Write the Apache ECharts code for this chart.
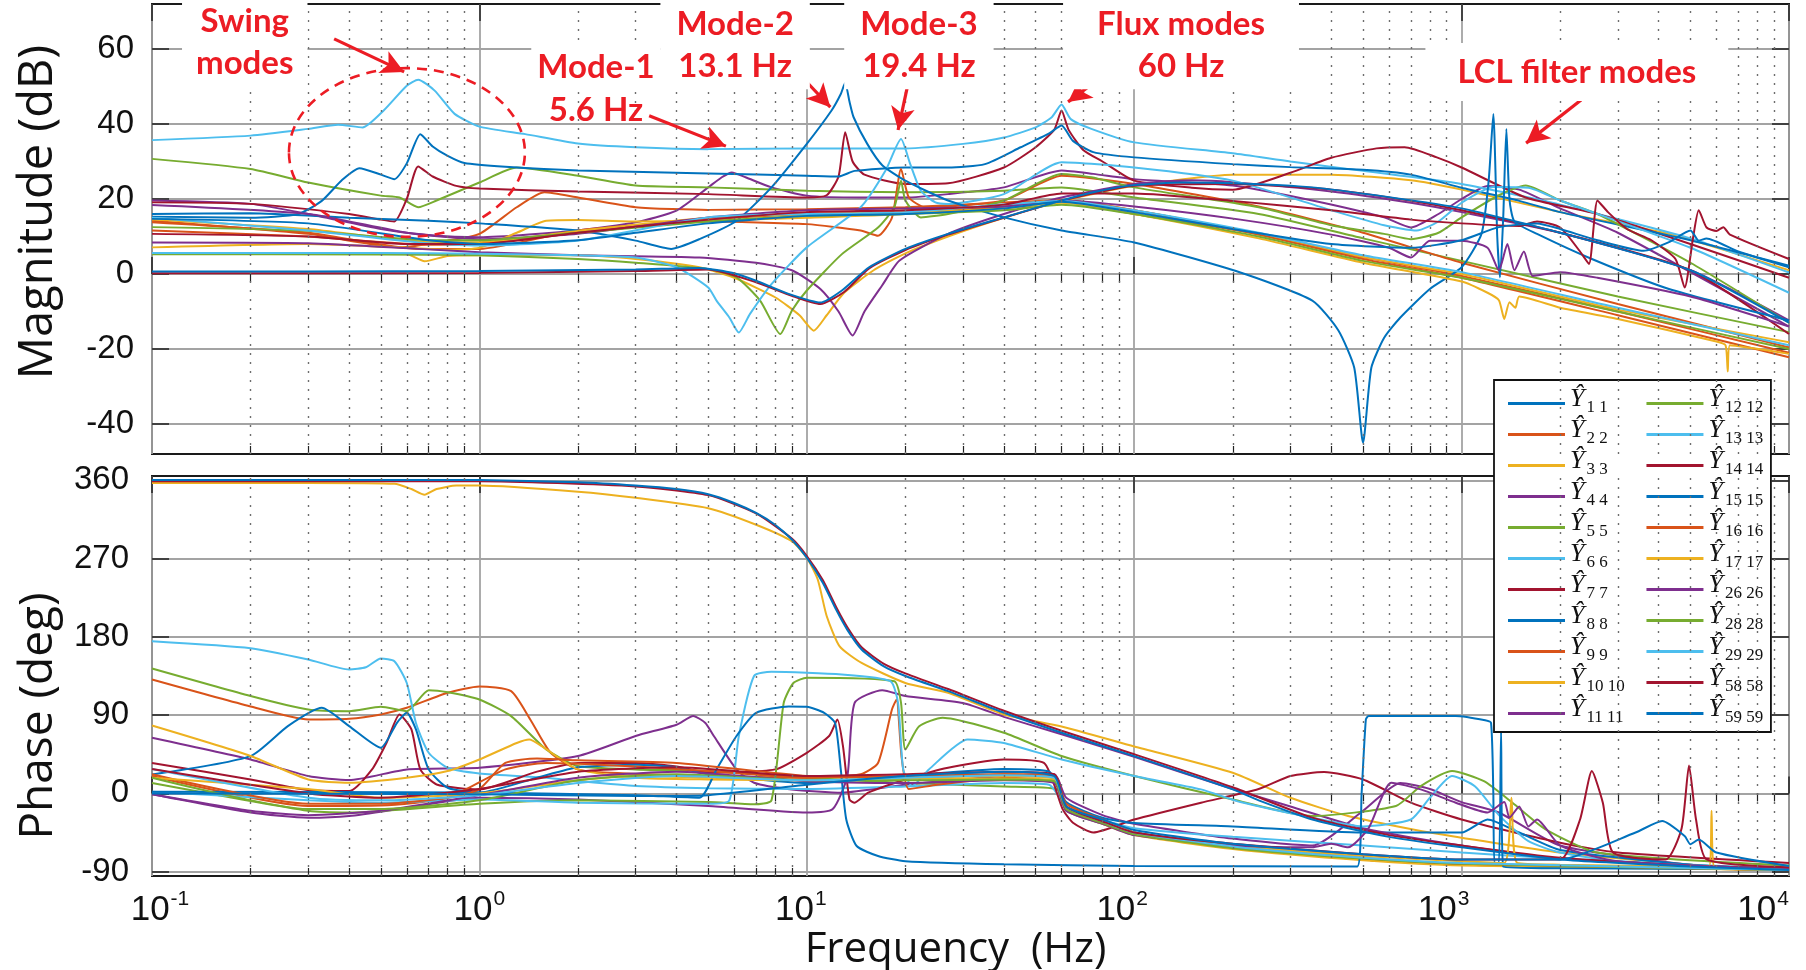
<!DOCTYPE html>
<html>
<head>
<meta charset="utf-8">
<script src="https://cdn.jsdelivr.net/npm/echarts@6/dist/echarts.min.js"></script>
<style>
html,body{margin:0;padding:0;background:#fff;}
#chart{width:1806px;height:970px;}
</style>
</head>
<body>
<div id="chart"></div>
<script>
// ---------------- data ----------------
const subLabels = ['1 1','2 2','3 3','4 4','5 5','6 6','7 7','8 8','9 9','10 10','11 11','12 12','13 13','14 14','15 15','16 16','17 17','26 26','28 28','29 29','58 58','59 59'];
const magTicks = [-40, -20, 0, 20, 40, 60];
const phaseTicks = [-90, 0, 90, 180, 270, 360];

// magnitude (dB) vs frequency (Hz)
const magY11 = [[0.1,0.7],[0.3,0.7],[1,0.8],[3,1.2],[4.7,1.6],[6,0.2],[7,-1.8],[8.8,-5.3],[11,-7.6],[12.8,-4.4],[15.5,1.8],[20,6.7],[27,10.7],[40,15.1],[60,19.6],[75,21.8],[100,23.7],[140,24.4],[200,24.2],[350,23.1],[600,20.5],[1000,17.5],[2000,11],[5000,1],[10000,-13]];
const magY22 = [[0.1,14.2],[0.3,10.7],[0.57,7.1],[0.8,8.9],[1,10.7],[1.3,17.8],[1.58,21.8],[2,20.4],[3,17.8],[5,17.1],[10,17.3],[20,17.8],[40,19.1],[60,19.6],[100,16],[240,10.7],[500,4.5],[1000,-0.5],[3000,-10],[10000,-21]];
const magY33 = [[0.1,5.6],[0.3,5.6],[0.6,5.3],[0.68,3.4],[0.8,4.8],[1,5],[2,5],[3,4],[4.7,1.8],[6,-1],[8,-6.2],[9.5,-11],[10.5,-15.1],[11.5,-11],[13,-5],[16,1],[20,5.5],[27,10],[40,15],[60,19.5],[100,23.5],[200,26.5],[400,26.5],[700,25],[1000,22.5],[2000,16.5],[4300,10.7],[10000,1]];
const magY44 = [[0.1,19.6],[0.2,18.7],[0.3,16],[0.5,12],[0.7,10.4],[1,9.8],[2,11.6],[3,13.8],[4,16.9],[5,23.1],[5.5,25.8],[5.9,27.1],[6.5,25.8],[7.8,23.1],[10,20.9],[14.6,20.4],[20,20.4],[27,21.3],[40,23.1],[60,27.6],[75,26.7],[100,25.3],[200,23.6],[350,19.6],[580,15.1],[700,12.4],[850,16],[1000,20],[1200,23.5],[1500,22.5],[2000,17.5],[3000,11],[10000,-14]];
const magY55 = [[0.1,30.7],[0.2,28],[0.3,24.4],[0.5,20.9],[0.57,20.4],[0.65,17.8],[0.74,19.6],[1,24.4],[1.3,28.4],[2,26.2],[3,23.6],[5,23.1],[10,22.2],[20,21.8],[40,22.2],[60,23.1],[100,20.4],[240,16],[500,9.5],[1000,3.5],[3000,-6],[10000,-15.5]];
const magY66 = [[0.1,35.7],[0.2,36.9],[0.3,38.7],[0.37,39.8],[0.44,39.1],[0.51,43.6],[0.6,50.2],[0.65,51.8],[0.73,48.9],[0.84,42.7],[1,39.3],[1.38,37.3],[2,34.8],[3,33.8],[5,33.3],[10,33.5],[20,33.5],[30,34.7],[40,36.4],[50,39.1],[56,41.8],[60,45.2],[64,41.3],[74,38.7],[100,35.1],[200,32.2],[300,30],[500,27.5],[1000,24],[2000,18.5],[5000,9.5],[10000,0.4]];
const magY77 = [[0.1,19.1],[0.2,18.7],[0.4,16],[0.5,14.5],[0.55,14],[0.6,20],[0.65,28.7],[0.72,26],[0.85,23.5],[1,22.8],[2,22],[5,21.3],[10,20.4],[11.5,21],[12.5,26],[13.1,37.8],[13.8,30],[15,26.5],[20,24],[27,24.2],[40,28.4],[50,33.8],[57,38.5],[60,43.6],[63,38.5],[70,33],[80,30],[100,24.9],[150,23],[200,22.5],[300,27],[400,31],[550,33.5],[670,33.8],[840,31.1],[1000,28.4],[1570,20.4],[2600,16],[5000,8],[10000,-1]];
const magY88 = [[0.1,15.3],[0.2,15],[0.28,16],[0.33,19.5],[0.38,25],[0.43,28.2],[0.5,26.5],[0.55,25.3],[0.6,29.5],[0.66,37.3],[0.72,34],[0.8,31.5],[0.9,29.6],[1.2,28.6],[2,27.6],[5,26.8],[10,26.2],[12.5,26],[14,27.5],[20,28.4],[27,28.4],[35,29.3],[45,33.8],[55,37.5],[60,39.6],[65,35.5],[75,32.5],[100,31.1],[200,29.3],[300,28.5],[500,27.8],[700,26.5],[1000,23],[1500,19.5],[2000,16.5],[5000,9],[10000,2.2]];
const magY99 = [[0.1,13.8],[0.3,11],[0.65,6.7],[1,6.7],[2,11.6],[5,14],[10,13.3],[14.6,11.6],[16.5,10.2],[18.2,15],[19.4,28],[20.5,20.4],[23,17.8],[40,19.6],[60,26.2],[100,24],[240,18],[500,11],[1000,3],[3000,-8],[10000,-19.6]];
const magY1010 = [[0.1,7.1],[0.3,8],[0.6,7],[0.8,6.5],[1,7],[1.3,11],[1.6,14.2],[2,14.4],[3,14],[5,14.2],[10,15],[20,16],[40,18],[60,19.8],[100,17],[200,12],[500,4.5],[1000,0],[3000,-9.5],[10000,-18.2]];
const magY1111 = [[0.1,8.4],[0.3,8.2],[0.65,6.7],[1,5.8],[2,5],[4.7,4.4],[7,3],[9,1],[11,-4],[12.5,-10],[13.8,-16.4],[15,-10],[17,-3],[19.2,3.6],[27,10.7],[40,16],[60,20.4],[100,24],[150,25],[200,24.5],[400,22],[700,19],[1000,16.5],[2000,11],[5000,1],[10000,-12.4]];
const magY1212 = [[0.1,5.3],[0.5,5.2],[1,5],[2,4],[3,3],[5,1.3],[6.1,-0.9],[7.2,-7.1],[8.3,-16],[9,-9.8],[10,-4.4],[12.8,5.3],[16.5,12.4],[18.5,17.8],[19.4,24.9],[20,19.6],[22.3,15.1],[27,16],[40,19.6],[60,26.7],[74,25.8],[100,23.1],[240,17.8],[400,13],[580,10.7],[700,9.3],[850,11],[1000,15.1],[1300,21],[1570,23.6],[2000,19.6],[2600,16],[5000,3],[10000,-13]];
const magY1313 = [[0.1,5.6],[0.5,5.6],[1,5.4],[2,5],[3,4.4],[4,1.8],[5,-3.6],[5.3,-7.1],[5.8,-11.6],[6.2,-15.6],[6.7,-10.7],[7.8,-2.7],[10,7.1],[14.6,17.8],[17.4,27.6],[19.4,36],[20.7,29.3],[22.3,22.2],[24.7,19.1],[27,18.7],[40,21.3],[60,29.8],[100,28.4],[200,24.9],[400,17],[580,13],[730,11.6],[850,14],[1000,19],[1250,23.2],[1600,23],[2000,19.6],[5000,7],[10000,-5]];
const magY1414 = [[0.1,0.2],[1,0.3],[3,0.8],[5,1.2],[7,-2.2],[9,-5.8],[11,-8],[13,-4.8],[15.5,1.5],[20,6.4],[27,10.5],[40,15],[60,19.5],[100,23.5],[200,24],[400,22.5],[700,19.5],[1000,17],[2000,11],[5000,1],[10000,-16]];
const magY1515 = [[0.1,16],[0.2,16.2],[0.4,15],[0.7,14.2],[1,13.5],[2,11.6],[3,8.9],[3.85,6.7],[4.7,9.3],[6.1,14.2],[7.8,23.1],[10,34.7],[11.9,43.6],[12.7,48],[13.1,51],[13.5,46],[13.9,41.8],[15.3,34.7],[17,29],[20,24.9],[27,19.6],[40,15.1],[60,11.6],[100,8.4],[211,0.4],[350,-7.1],[420,-15],[470,-25],[500,-45],[530,-25],[580,-17],[650,-11.6],[800,-4],[1000,1.8],[1150,10.7],[1210,25],[1250,42.7],[1285,10],[1310,-0.9],[1340,15],[1370,38.7],[1400,20],[1450,14],[1700,10.7],[2500,4],[4300,-4],[10000,-12.4]];
const magY1616 = [[0.1,11.6],[0.3,10],[0.7,7.8],[1,8],[2,11],[5,14.5],[10,16],[20,16.5],[40,18],[60,19.6],[100,17],[240,10.5],[500,4],[1000,-1],[3000,-11],[10000,-22.2]];
const magY1717 = [[0.1,14.5],[0.3,12],[0.7,8.5],[1,8.5],[2,11.5],[5,15],[10,16],[20,16.5],[40,17.5],[60,19],[100,16],[240,9.5],[500,3],[1000,-2],[1200,-5],[1300,-7],[1350,-12],[1400,-7.5],[1460,-9],[1500,-6],[2000,-9],[3000,-12],[6000,-18],[6400,-19],[6500,-26],[6600,-19],[10000,-21.3]];
const magY2626 = [[0.1,18.4],[0.3,16],[0.6,11],[1,9.3],[2,10.7],[5,15.1],[10,17],[20,17.5],[40,18],[60,19.6],[100,18],[211,14.5],[400,10.5],[600,7],[700,4.4],[800,8.9],[1000,8.9],[1200,7],[1300,1],[1380,8],[1450,1],[1550,6],[1650,-0.5],[2000,0.5],[2600,-1],[5000,-6],[10000,-14]];
const magY2828 = [[0.1,12.5],[0.3,11.5],[0.7,9],[1,9],[2,11],[5,14],[10,15.5],[20,16],[40,17],[60,18.5],[100,16],[240,10],[500,3.5],[1000,-1],[3000,-10],[10000,-20]];
const magY2929 = [[0.1,15],[0.3,11.6],[0.65,8.4],[1,7.6],[2,8.9],[5,15.1],[10,16],[20,16.5],[60,19.5],[100,17],[240,11],[500,5],[1000,0.5],[3000,-9],[10000,-19]];
const magY5858 = [[0.1,10.7],[0.3,10],[0.6,8],[1,8],[2,11],[5,14.5],[10,16.5],[20,17],[40,18.5],[60,21.5],[100,21.5],[200,19.5],[400,17],[700,14.5],[1000,13.5],[1500,12.8],[1700,14],[2000,12.4],[2300,6],[2450,2.7],[2600,19.6],[2800,16.5],[3200,12],[3800,9],[4500,4],[4800,-3.6],[5100,10],[5300,17],[5600,12.4],[6000,11.5],[6300,12.5],[6600,10.5],[10000,4]];
const magY5959 = [[0.1,14.7],[0.3,13.5],[0.7,9],[1,8],[2,9],[3,11],[5,13.5],[10,15.5],[20,16],[40,17.5],[60,19.3],[100,16.5],[200,12],[400,8],[700,7],[1000,9],[1300,12.5],[1700,13.5],[2000,12],[2600,9],[3600,6.2],[4300,8.5],[5000,11.6],[5300,8.9],[5600,9.5],[7000,6],[10000,1.8]];

// phase (deg) vs frequency (Hz)
const phY11 = [[0.1,360.5],[0.5,360.5],[1,360.3],[2,357.7],[3,354],[4,350],[5,344],[6,334],[7,322.5],[8,309],[9,292],[10,271],[11.2,242],[12.3,211],[13.3,188],[14.7,165.5],[17.2,146],[20,135],[27,117.6],[40,92.7],[60,69.7],[100,42.9],[200,4.6],[240,-8],[350,-30],[600,-50],[1000,-62],[2000,-76],[5000,-84],[10000,-88]];
const phY22 = [[0.1,131],[0.2,100],[0.3,85],[0.4,85.8],[0.5,90.8],[0.6,98.4],[0.8,115.7],[1,123],[1.25,117.6],[1.43,85],[1.65,46.7],[2,27.6],[2.5,23.7],[5,20],[10,18],[20,20],[40,22],[58,18],[62,-15],[80,-30],[100,-45],[200,-62],[500,-76],[1000,-82],[10000,-88]];
const phY33 = [[0.1,357],[0.3,357],[0.55,356],[0.62,350],[0.68,343.5],[0.74,350],[0.85,354],[1,354],[2,347],[3,340],[5,328],[7,309],[9,290],[10,271],[10.8,246],[11.5,204],[12.6,169],[14.7,150],[20,127],[27,115.7],[40,90.8],[60,77],[100,54],[200,23.7],[300,-5],[450,-26],[800,-45],[2000,-68],[5000,-82],[10000,-87]];
const phY44 = [[0.1,64],[0.2,39],[0.3,20],[0.4,15.3],[0.6,27.6],[1,29.5],[2,43],[3,66],[4,79],[4.5,89],[4.9,81],[5.2,66],[6.1,27.6],[6.9,12.3],[9,4.6],[12.8,0.8],[20,10],[40,20],[57,22],[62,-5],[80,-25],[100,-35],[200,-52],[350,-60],[500,-20],[650,12],[800,5],[1000,-10],[1300,-22],[2000,-60],[5000,-82],[10000,-87]];
const phY55 = [[0.1,143.6],[0.2,112],[0.3,96.5],[0.4,94.6],[0.5,99.6],[0.6,94.6],[0.7,118.7],[0.8,116.4],[1,108],[1.25,88.9],[1.6,50.6],[2,31.4],[3,27.6],[5,25.7],[10,18],[20,12],[40,8],[58,5],[62,-20],[80,-35],[100,-45],[200,-62],[500,-76],[1000,-82],[10000,-88]];
const phY66 = [[0.1,175],[0.2,167],[0.3,154],[0.4,142.5],[0.45,145],[0.5,155],[0.55,152],[0.6,127],[0.64,81],[0.7,46.7],[0.8,29.5],[1,23],[1.6,18],[2,14.2],[3,8.4],[5,6],[10,5],[20,8],[40,12],[55,10],[62,-15],[80,-30],[100,-40],[200,-50],[500,-60],[1000,-68],[2000,-75],[10000,-87]];
const phY77 = [[0.1,35],[0.2,16],[0.3,3.8],[0.4,2.7],[0.47,27.6],[0.52,58],[0.57,90.8],[0.62,73.5],[0.66,27.6],[0.74,10.3],[1,4.6],[1.5,25],[2,35],[3,35],[4,31],[5,23.7],[8,27.6],[10,46.7],[11.7,66],[12.4,85],[12.9,54],[13.5,-7],[14,-10.7],[15.4,0.8],[20,16],[27,29.5],[40,39],[53,35],[60.5,-18.4],[65,-33.7],[75,-45],[100,-30],[160,-10.7],[240,5],[300,20],[380,24.5],[500,16],[700,-10.7],[1000,-30],[2000,-56.7],[3000,-68],[10000,-80]];
const phY88 = [[0.1,21.8],[0.2,42.9],[0.26,77.4],[0.33,98.4],[0.4,77.4],[0.5,52.5],[0.56,81.2],[0.6,92.7],[0.64,73.5],[0.7,27.6],[0.8,6.5],[1,1],[1.5,18],[2,30],[3,33],[4,30],[5,22],[10,12],[20,20],[40,28],[55,25],[62,-10],[80,-28],[100,-34],[200,-38],[500,-45],[1000,-45],[1200,-30],[1500,-45],[2000,-65],[5000,-82],[10000,-87]];
const phY99 = [[0.1,20],[0.3,-14.5],[0.5,-14],[0.8,-5],[1.2,27.6],[1.6,35],[3,31],[5,25.7],[10,18],[14.6,22],[16.5,35],[18.2,96.5],[18.8,108],[19.5,40],[20.5,5],[25,10],[40,18],[57,20],[62,-15],[80,-30],[100,-45],[200,-62],[500,-76],[1000,-82],[10000,-88]];
const phY1010 = [[0.1,78],[0.2,43],[0.3,16],[0.4,12.3],[0.6,18],[0.8,25.7],[1,39],[1.3,58],[1.42,62],[1.55,54.4],[2,27.6],[3,18],[5,16],[10,15],[20,18],[40,20],[57,17],[62,-18],[80,-35],[100,-48],[200,-64],[500,-77],[1000,-83],[10000,-88]];
const phY1111 = [[0.1,-1],[0.2,-22],[0.3,-28],[0.4,-26],[0.6,-16.5],[1,-5],[2,-7],[5,-14.5],[10,-22],[12,-18],[13.3,20],[14,104],[17,118.7],[20,112],[30,104],[40,88],[60,68],[100,42],[200,5],[300,-15],[500,-40],[1000,-60],[2000,-75],[10000,-88]];
const phY1212 = [[0.1,12],[0.3,-20],[0.4,-22],[1,-12],[2,-8],[5,-10],[6.9,-12.6],[7.8,-8],[8.5,104],[9.1,127],[10,133],[18.5,129],[19.4,104],[20,50.5],[22,77],[26,87],[40,69.7],[60,43],[100,20],[200,-7],[350,-26],[630,-14.5],[750,8.4],[935,25.7],[1170,14],[1430,-10.7],[1800,-41],[2600,-68],[10000,-83]];
const phY1313 = [[0.1,2],[0.3,-8],[0.5,-10.7],[1,-7],[2,-10.7],[5,-12],[5.8,-8],[6.2,66],[6.9,135],[7.8,139.8],[12.8,136.7],[18,129],[19,104],[19.7,27.6],[21,8.4],[23.6,27.6],[31,62],[40,58],[60,39],[100,20],[160,4.6],[211,-10],[350,-28],[500,-38],[700,-30],[800,-5],[935,20],[1100,8],[1300,-25],[1600,-55],[2000,-68],[3000,-78],[10000,-88]];
const phY1414 = [[0.1,359],[1,359],[3,353],[5,343],[7,322],[9,293],[10,273],[11.2,245],[12.3,214],[13.3,191],[14.7,168],[17.2,149],[20,138],[27,120],[40,95],[60,72],[100,45],[200,7],[350,-28],[600,-48],[1000,-60],[2000,-74],[5000,-83],[10000,-87]];
const phY1515 = [[0.1,2],[1,1],[3,-2],[4.7,-5],[5.3,27.6],[6.1,66],[7,92.7],[8.8,100],[10,99.6],[11.3,92.7],[12.2,81],[12.7,27.6],[13.2,-30],[14.2,-60.5],[16.5,-72],[20,-78],[40,-81.6],[100,-83.5],[480,-84],[495,0],[510,85],[520,89],[960,89],[1180,84],[1230,81],[1250,0],[1260,-80],[1300,-80],[1320,73.5],[1340,-84],[2000,-86],[10000,-87]];
const phY1616 = [[0.1,22],[0.3,-12],[0.5,-12],[0.8,-5],[1,5],[1.2,35],[1.5,40],[2,38],[4,35],[10,20],[20,18],[40,22],[57,20],[62,-12],[80,-30],[100,-45],[200,-60],[500,-74],[1000,-81],[10000,-88]];
const phY1717 = [[0.1,18],[0.3,5],[0.5,-5],[1,0],[2,15],[3,20],[5,18],[10,15],[20,17],[40,17],[57,15],[62,-18],[80,-32],[100,-45],[200,-60],[500,-72],[1000,-78],[1350,-80],[1420,-5],[1480,-80],[2000,-82],[5000,-84],[5700,-84],[5800,-20],[5900,-84],[10000,-87]];
const phY2626 = [[0.1,-1],[0.2,-20],[0.3,-25],[0.5,-20],[1,-2],[2,18],[4,25],[10,14],[20,12],[40,15],[57,12],[62,-20],[80,-35],[100,-48],[200,-60],[350,-62],[400,-58],[450,-62],[520,-40],[610,12.3],[750,4.6],[960,-10.7],[1200,-22],[1350,-10],[1400,-28],[1500,-15],[1600,-38],[1700,-30],[2000,-60],[3000,-78],[10000,-87]];
const phY2828 = [[0.1,18],[0.3,-18],[0.5,-18],[1,-8],[2,15],[4,22],[10,15],[20,15],[40,16],[57,14],[62,-18],[80,-34],[100,-47],[200,-63],[500,-75],[1000,-81],[10000,-88]];
const phY2929 = [[0.1,28],[0.3,-5],[0.5,-8],[1,-2],[2,12],[4,20],[10,15],[20,18],[40,21],[57,18],[62,-15],[80,-32],[100,-45],[200,-61],[500,-74],[1000,-80],[10000,-88]];
const phY5858 = [[0.1,28],[0.3,0],[0.5,-5],[1,5],[2,25],[4,30],[10,20],[20,22],[40,25],[57,22],[62,-15],[80,-32],[100,-45],[200,-58],[500,-70],[1000,-76],[2000,-76],[2300,-30],[2500,25.7],[2700,-10.7],[2900,-68],[4200,-76],[4700,-40],[4950,32],[5200,-30],[5600,-76],[10000,-85]];
const phY5959 = [[0.1,0],[1,-1],[3,-3],[5,-2],[10,10],[20,20],[40,25],[57,20],[62,-15],[80,-30],[100,-42],[200,-58],[500,-70],[1000,-76],[2000,-76],[3400,-45],[4100,-31.8],[4800,-49],[5000,-58.6],[5300,-53],[6000,-68],[10000,-83.5]];

const magData = [magY11,magY22,magY33,magY44,magY55,magY66,magY77,magY88,magY99,magY1010,magY1111,magY1212,magY1313,magY1414,magY1515,magY1616,magY1717,magY2626,magY2828,magY2929,magY5858,magY5959];
const phaseData = [phY11,phY22,phY33,phY44,phY55,phY66,phY77,phY88,phY99,phY1010,phY1111,phY1212,phY1313,phY1414,phY1515,phY1616,phY1717,phY2626,phY2828,phY2929,phY5858,phY5959];

// minor grid frequencies (2..9 x decade)
const minorFreqs = [];
[0.1, 1, 10, 100, 1000].forEach(d => { for (let k = 2; k <= 9; k++) minorFreqs.push(+(d * k).toPrecision(3)); });
const majorFreqs = [0.1, 1, 10, 100, 1000, 10000];

// annotations (data coordinates)
const annoTexts = [
  {text: 'Swing\nmodes', at: [0.192, 61.8]},
  {text: 'Mode-1', at: [2.27, 55.2]},
  {text: '5.6 Hz', at: [2.27, 43.7]},
  {text: 'Mode-2\n13.1 Hz', at: [6.04, 61]},
  {text: 'Mode-3\n19.4 Hz', at: [22.0, 61]},
  {text: 'Flux modes\n60 Hz', at: [139, 61]},
  {text: 'LCL filter modes', at: [2249, 53.9]}
];
const annoArrows = [
  [[0.36, 62.7], [0.589, 53.9]],
  [[3.3, 42.2], [5.66, 34.1]],
  [[9.8, 52], [11.8, 44.5]],
  [[20.4, 50.9], [19.0, 38.4]],
  [[82.6, 53.6], [62.8, 45.9]],
  [[2317, 46.4], [1574, 34.9]]
];
const swingEllipse = {left: 0.262, right: 1.377, top: 54.9, bottom: 9.9};

// ---------------- styling ----------------
const colors = ['#0072BD','#D95319','#EDB120','#7E2F8E','#77AC30','#4DBEEE','#A2142F'];
const RED = '#ec1c24';
const tickFont = "'Liberation Sans', Arial, sans-serif";
const titleFont = "'Open Sans', 'Noto Sans', sans-serif";
const annFont = "Lato, 'Open Sans', sans-serif";
const serifFont = "'Liberation Serif', 'DejaVu Serif', serif";
const gridColor = '#a3a3a3';
const labelShift = {'-1': 8, '0': 0, '1': -6, '2': -12, '3': -18, '4': -26};

const xRich = {
  b: {fontFamily: tickFont, fontSize: 35, color: '#111', verticalAlign: 'bottom', lineHeight: 38},
  s: {fontFamily: tickFont, fontSize: 21, color: '#111', verticalAlign: 'bottom', lineHeight: 21, padding: [0, 0, 18, 1]}
};
Object.keys(labelShift).forEach(k => {
  const d = labelShift[k];
  xRich['gl' + (+k + 1)] = {width: d > 0 ? 2 * d : 0.01, fontSize: 4};
  xRich['gr' + (+k + 1)] = {width: d < 0 ? -2 * d : 0.01, fontSize: 4};
});

const chart = echarts.init(document.getElementById('chart'), null, {renderer: 'canvas'});

function logAxis(gridIndex, extra) {
  return Object.assign({
    type: 'log', logBase: 10, gridIndex: gridIndex, min: 0.1, max: 10000,
    axisLine: {show: false},
    axisTick: {show: true, inside: true, length: 17, lineStyle: {color: '#222', width: 1.5}},
    axisLabel: {show: false},
    splitLine: {show: true, lineStyle: {color: gridColor, width: 1.8}},
    minorTick: {show: false}, minorSplitLine: {show: false}
  }, extra || {});
}
const minorTickAxis = (gridIndex, position) => ({
  type: 'log', logBase: 10, gridIndex: gridIndex, min: 0.1, max: 10000, position: position,
  axisLine: {show: false}, axisLabel: {show: false}, splitLine: {show: false},
  axisTick: {show: true, inside: true, length: 8, customValues: minorFreqs, lineStyle: {color: '#222', width: 1.2}}
});
const majorTopAxis = (gridIndex) => ({
  type: 'log', logBase: 10, gridIndex: gridIndex, min: 0.1, max: 10000, position: 'top',
  axisLine: {show: false}, axisLabel: {show: false}, splitLine: {show: false},
  axisTick: {show: true, inside: true, length: 17, customValues: majorFreqs, lineStyle: {color: '#222', width: 1.5}}
});

const xAxes = [
  logAxis(0),
  logAxis(1, {
    axisLabel: {
      show: true, margin: 14, interval: 0,
      formatter: v => { const e = Math.round(Math.log10(v)); return '{gl' + (e + 1) + '| }{b|10}{s|' + e + '}{gr' + (e + 1) + '| }'; },
      rich: xRich
    },
    name: 'Frequency  (Hz)', nameLocation: 'middle', nameGap: 50,
    nameTextStyle: {fontFamily: titleFont, fontSize: 42, color: '#111', padding: [0, 30, 0, 0]}
  }),
  minorTickAxis(0, 'top'), minorTickAxis(0, 'bottom'),
  minorTickAxis(1, 'top'), minorTickAxis(1, 'bottom'),
  majorTopAxis(0), majorTopAxis(1)
];

function valAxis(gridIndex, min, max, ticks, name, namePad, margin, nameSize) {
  return {
    type: 'value', gridIndex: gridIndex, min: min, max: max,
    axisLine: {show: false},
    axisTick: {show: true, inside: true, length: 17, customValues: ticks, lineStyle: {color: '#222', width: 1.5}},
    axisLabel: {show: true, customValues: ticks, margin: margin, fontFamily: tickFont, fontSize: 33, color: '#111'},
    splitLine: {show: true, lineStyle: {color: gridColor, width: 1.8}},
    name: name, nameLocation: 'middle', nameGap: 90, nameRotate: 90,
    nameTextStyle: {fontFamily: titleFont, fontSize: nameSize, color: '#111', padding: namePad}
  };
}
const rightAxis = (gridIndex, min, max, ticks) => ({
  type: 'value', gridIndex: gridIndex, min: min, max: max, position: 'right',
  axisLine: {show: false}, axisLabel: {show: false}, splitLine: {show: false},
  axisTick: {show: true, inside: true, length: 17, customValues: ticks, lineStyle: {color: '#222', width: 1.5}}
});

const yAxes = [
  valAxis(0, -48, 72, magTicks, 'Magnitude (dB)', [0, 0, 0, 34], 18, 47),
  valAxis(1, -95, 365, phaseTicks, 'Phase (deg)', [0, 80, 0, 0], 23, 46),
  rightAxis(0, -48, 72, magTicks),
  rightAxis(1, -95, 365, phaseTicks)
];

const series = [];
// minor dotted gridlines
[0, 1].forEach(g => {
  series.push({
    type: 'line', name: 'minor' + g, xAxisIndex: g, yAxisIndex: g, data: [], silent: true, z: 1,
    markLine: {
      silent: true, symbol: ['none', 'none'], animation: false, label: {show: false},
      lineStyle: {color: '#6e6e6e', width: 1.4, type: [2, 7]},
      data: minorFreqs.map(f => ({xAxis: f}))
    }
  });
});
subLabels.forEach((name, i) => {
  const c = colors[i % 7];
  const common = {type: 'line', name: name, showSymbol: false, symbol: 'none', smooth: 0.2, animation: false,
    z: i === 0 ? 3 : 2,
    lineStyle: {width: 2, color: c}, itemStyle: {color: c}, emphasis: {disabled: true}};
  series.push(Object.assign({}, common, {xAxisIndex: 0, yAxisIndex: 0, data: magData[i]}));
  series.push(Object.assign({}, common, {xAxisIndex: 1, yAxisIndex: 1, data: phaseData[i]}));
});
// arrows
series.push({
  type: 'line', name: 'arrows', xAxisIndex: 0, yAxisIndex: 0, data: [], silent: true, z: 5,
  markLine: {
    silent: true, animation: false, symbol: ['none', 'arrow'], symbolSize: [18, 23],
    label: {show: false}, lineStyle: {color: RED, width: 3.2, type: 'solid'},
    data: annoArrows.map(a => [{coord: a[0]}, {coord: a[1]}])
  }
});

const serifStyle = {fontFamily: serifFont, color: '#111', verticalAlign: 'bottom'};
const legendRich = {
  y: Object.assign({fontStyle: 'italic', fontSize: 26, lineHeight: 25, padding: [0, 0, 4, 0]}, serifStyle),
  s: Object.assign({fontSize: 17, lineHeight: 17, width: 59, padding: [0, 0, 0, 2]}, serifStyle),
  t: Object.assign({fontSize: 17, lineHeight: 17, width: 44, padding: [0, 0, 0, 2]}, serifStyle)
};

const gridBase = {show: true, borderColor: '#1a1a1a', borderWidth: 2, backgroundColor: '#fff', containLabel: false, outerBoundsMode: 'none'};
const option = {
  backgroundColor: '#ffffff',
  animation: false,
  grid: [
    Object.assign({left: 152, top: 4, width: 1637, height: 450}, gridBase),
    Object.assign({left: 152, top: 476, width: 1637, height: 400}, gridBase)
  ],
  xAxis: xAxes,
  yAxis: yAxes,
  legend: {
    show: true, data: subLabels, orient: 'vertical', left: 1494, top: 380, height: 342,
    padding: [6, 2, 6, 14], itemGap: 1, itemWidth: 57, itemHeight: 3, icon: 'rect',
    backgroundColor: '#fff', borderColor: '#111', borderWidth: 1.8,
    formatter: name => '{y|Ŷ}{' + (subLabels.indexOf(name) < 11 ? 's' : 't') + '|' + name + '}',
    textStyle: {rich: legendRich, overflow: 'none'},
    selectedMode: false
  },
  series: series
};
chart.setOption(option);

// annotations anchored through the axes' scales
function px(pt) { return chart.convertToPixel({xAxisIndex: 0, yAxisIndex: 0}, pt); }
const annoPad = [[2, 14, 2, 14], [2, 6, 0, 6], null, [2, 16, 2, 16], [2, 16, 2, 16], [2, 34, 2, 34], [8, 32, 8, 32]];
const graphics = annoTexts.map((a, i) => {
  const p = px(a.at);
  const style = {
    text: a.text, fill: RED, font: 'bold 33px ' + annFont, align: 'center', verticalAlign: 'middle', lineHeight: 42
  };
  if (annoPad[i]) { style.backgroundColor = '#fff'; style.padding = annoPad[i]; }
  return {type: 'text', x: p[0], y: p[1], z: 50, silent: true, style: style};
});
const eL = px([swingEllipse.left, swingEllipse.top]);
const eR = px([swingEllipse.right, swingEllipse.bottom]);
graphics.push({
  type: 'ellipse', z: 40, silent: true,
  shape: {cx: (eL[0] + eR[0]) / 2, cy: (eL[1] + eR[1]) / 2, rx: (eR[0] - eL[0]) / 2, ry: (eR[1] - eL[1]) / 2},
  style: {fill: 'none', stroke: RED, lineWidth: 2.6, lineDash: [10, 7]}
});
chart.setOption({graphic: graphics});
</script>
</body>
</html>
